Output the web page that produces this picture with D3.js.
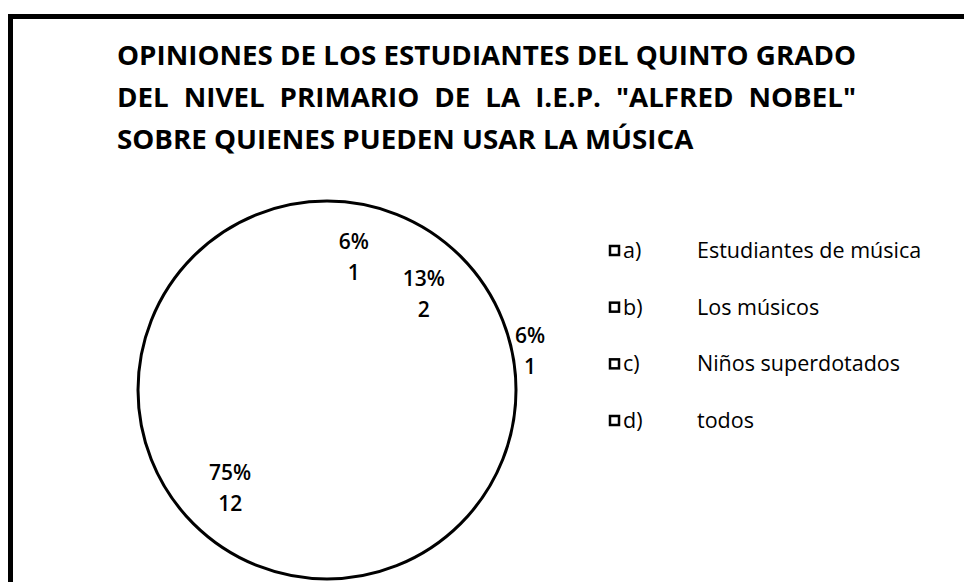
<!DOCTYPE html>
<html>
<head>
<meta charset="utf-8">
<script src="https://cdn.jsdelivr.net/npm/d3@7"></script>
<style>
  html, body { margin: 0; padding: 0; background: #fff; }
  svg { display: block; }
</style>
</head>
<body>
<svg id="chart" width="964" height="582"></svg>
<script>
// data
const categories = ['a)', 'b)', 'c)', 'd)'];
const labels = ['Estudiantes de música', 'Los músicos', 'Niños superdotados', 'todos'];
const counts = [1, 2, 1, 12];
const titleLines = [
  'OPINIONES DE LOS ESTUDIANTES DEL QUINTO GRADO',
  'DEL NIVEL PRIMARIO DE LA I.E.P. "ALFRED NOBEL"',
  'SOBRE QUIENES PUEDEN USAR LA MÚSICA'
];

const width = 964, height = 582;
const cx = 327, cy = 390, radius = 189;
const svg = d3.select('#chart');
const font = '"Open Sans", sans-serif';

// frame (only top and left edges visible in the picture)
svg.append('path')
  .attr('d', `M10.5,${height} L10.5,16.5 L${width},16.5`)
  .attr('fill', 'none')
  .attr('stroke', '#000')
  .attr('stroke-width', 5);

// title
const titleX = 117, titleRight = 856;
const title = svg.append('g').attr('font-family', font)
  .attr('font-weight', 700).attr('font-size', 26).attr('fill', '#000');

const t1 = title.append('text').attr('x', titleX).attr('y', 65).text(titleLines[0]);
const sx = (titleRight - titleX) / t1.node().getComputedTextLength();
t1.attr('textLength', titleRight - titleX).attr('lengthAdjust', 'spacingAndGlyphs');

// second line is justified: lay out words with even gaps
const words = titleLines[1].split(' ');
const probe = title.append('text').attr('y', -100);
const wLens = words.map(w => { probe.text(w); return probe.node().getComputedTextLength() * sx; });
probe.remove();
const gap = (titleRight - titleX - d3.sum(wLens)) / (words.length - 1);
let wx = titleX;
words.forEach((w, i) => {
  title.append('text').attr('x', wx).attr('y', 107)
    .attr('textLength', wLens[i]).attr('lengthAdjust', 'spacingAndGlyphs').text(w);
  wx += wLens[i] + gap;
});

const t3 = title.append('text').attr('x', titleX).attr('y', 149).text(titleLines[2]);
t3.attr('textLength', t3.node().getComputedTextLength() * sx).attr('lengthAdjust', 'spacingAndGlyphs');

// pie
const total = d3.sum(counts);
const pie = d3.pie().sort(null).value(d => d)(counts);
const arc = d3.arc().innerRadius(0).outerRadius(radius);
const labelArc = d3.arc().innerRadius(137).outerRadius(137);
const outerLabelArc = d3.arc().innerRadius(207).outerRadius(207);

const g = svg.append('g').attr('transform', `translate(${cx},${cy})`);
g.selectAll('path.slice')
  .data(pie)
  .enter()
  .append('path')
  .attr('class', 'slice')
  .attr('d', arc)
  .attr('fill', '#fff')
  .attr('stroke', 'none');

g.append('circle')
  .attr('r', radius)
  .attr('fill', 'none')
  .attr('stroke', '#000')
  .attr('stroke-width', 3);

const lab = g.selectAll('g.lab')
  .data(pie)
  .enter()
  .append('g')
  .attr('class', 'lab')
  .attr('transform', (d, i) => {
    const c = (i === 2 ? outerLabelArc : labelArc).centroid(d);
    return `translate(${c[0]},${c[1]})`;
  })
  .attr('font-family', font)
  .attr('font-weight', 600)
  .attr('font-size', 21)
  .attr('text-anchor', 'middle')
  .attr('fill', '#000');

lab.append('text').attr('y', -7).text(d => Math.round(d.data / total * 100) + '%');
lab.append('text').attr('y', 24).text(d => d.data);

// legend
const legendY = d3.scalePoint().domain(categories).range([250, 420]);
const legend = svg.append('g')
  .attr('font-family', font)
  .attr('font-weight', 500)
  .attr('font-size', 21.5)
  .attr('fill', '#000');

const rows = legend.selectAll('g')
  .data(categories)
  .enter()
  .append('g')
  .attr('transform', d => `translate(0,${legendY(d)})`);

rows.append('rect')
  .attr('x', 610).attr('y', -4).attr('width', 9).attr('height', 9)
  .attr('fill', '#fff').attr('stroke', '#000').attr('stroke-width', 2.5);

rows.append('text').attr('x', 623).attr('y', 8).text(d => d);
rows.append('text').attr('x', 697).attr('y', 8).text((d, i) => labels[i]);
</script>
</body>
</html>
